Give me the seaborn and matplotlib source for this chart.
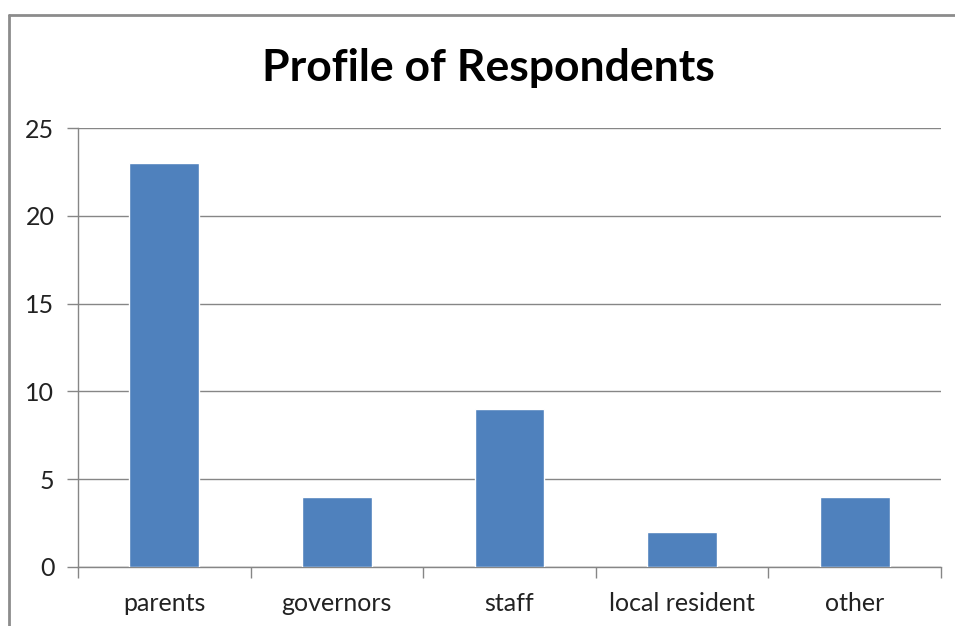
import pandas as pd
import matplotlib.pyplot as plt
import seaborn as sns
from matplotlib.lines import Line2D

# Chart data
categories = ["parents", "governors", "staff", "local resident", "other"]
counts = [23, 4, 9, 2, 4]
y_ticks = [0, 5, 10, 15, 20, 25]

df = pd.DataFrame({"Group": categories, "Count": counts})

sns.set_theme(style="white")
plt.rcParams["font.family"] = ["Lato", "DejaVu Sans"]

fig = plt.figure(figsize=(9.55, 6.26), dpi=100)
ax = fig.add_axes([78 / 955, 1 - 567 / 626, (941 - 78) / 955, (567 - 128) / 626])

sns.barplot(data=df, x="Group", y="Count", color="#4F81BD", saturation=1,
            width=0.405, ax=ax, zorder=3)

grey = "#868686"
ax.set_ylim(0, 25)
ax.set_xlim(-0.5, len(categories) - 0.5)
ax.set_yticks(y_ticks)
ax.yaxis.grid(True, color=grey, linewidth=1)
ax.set_axisbelow(True)
ax.set_xlabel("")
ax.set_ylabel("")

# category boundary ticks on the x axis, labels centred under bars
ax.set_xticks([i - 0.5 for i in range(len(categories) + 1)], minor=True)
ax.set_xticks(range(len(categories)))
ax.set_xticklabels(categories)
ax.tick_params(axis="x", which="major", length=0, pad=18, labelsize=18, labelcolor="#222222")
ax.tick_params(axis="x", which="minor", length=8, width=1, color=grey, direction="out", bottom=True)
ax.tick_params(axis="y", length=8, width=1, color=grey, direction="out", left=True,
               pad=9, labelsize=18, labelcolor="#222222")

for side in ["top", "right"]:
    ax.spines[side].set_visible(False)
for side in ["left", "bottom"]:
    ax.spines[side].set_color(grey)
    ax.spines[side].set_linewidth(1)

fig.text(488 / 955, 1 - 68 / 626, "Profile of Respondents", ha="center", va="center",
         fontsize=32, fontweight="bold", color="black")

# outer chart frame (only left and top edges are visible)
fig.add_artist(Line2D([9 / 955, 9 / 955], [0, 1 - 15 / 626], color="#8c8c8c", linewidth=2))
fig.add_artist(Line2D([9 / 955, 1], [1 - 15 / 626, 1 - 15 / 626], color="#8c8c8c", linewidth=2))

fig.savefig("out.png", dpi=100)
